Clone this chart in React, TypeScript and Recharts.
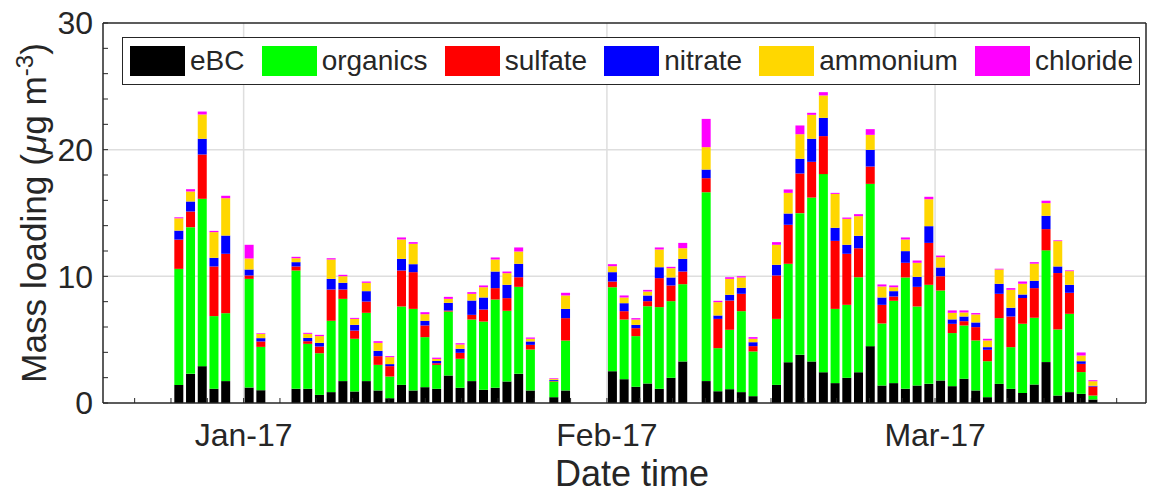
import { BarChart, Bar, XAxis, YAxis, CartesianGrid, Legend } from 'recharts';

// daily means, one entry per sampled day
const dates = [
  '2016-12-26', '2016-12-27', '2016-12-28', '2016-12-29', '2016-12-30',
  '2017-01-01', '2017-01-02',
  '2017-01-05', '2017-01-06', '2017-01-07', '2017-01-08', '2017-01-09', '2017-01-10', '2017-01-11',
  '2017-01-12', '2017-01-13', '2017-01-14', '2017-01-15', '2017-01-16', '2017-01-17', '2017-01-18',
  '2017-01-19', '2017-01-20', '2017-01-21', '2017-01-22', '2017-01-23', '2017-01-24', '2017-01-25',
  '2017-01-27', '2017-01-28',
  '2017-02-01', '2017-02-02', '2017-02-03', '2017-02-04', '2017-02-05', '2017-02-06', '2017-02-07',
  '2017-02-09', '2017-02-10', '2017-02-11', '2017-02-12', '2017-02-13',
  '2017-02-15', '2017-02-16', '2017-02-17', '2017-02-18', '2017-02-19', '2017-02-20', '2017-02-21',
  '2017-02-22', '2017-02-23', '2017-02-24', '2017-02-25', '2017-02-26', '2017-02-27', '2017-02-28',
  '2017-03-01', '2017-03-02', '2017-03-03', '2017-03-04', '2017-03-05', '2017-03-06', '2017-03-07',
  '2017-03-08', '2017-03-09', '2017-03-10', '2017-03-11', '2017-03-12', '2017-03-13', '2017-03-14',
];

const ebc = [
  1.43, 2.3, 2.91, 1.12, 1.73,
  1.22, 1.01,
  1.12, 1.12, 0.64, 0.86, 1.73, 0.91, 1.73,
  0.99, 0.38, 1.43, 0.99, 1.25, 1.12, 2.17,
  1.2, 1.73, 1.04, 1.2, 1.7, 2.3, 0.99,
  0.46, 0.99,
  2.51, 1.88, 1.28, 1.54, 1.12, 1.99, 3.28,
  1.73, 0.93, 1.09, 0.86, 0.54,
  1.43, 3.22, 3.8, 3.28, 2.43, 1.57, 1.99,
  2.43, 4.49, 1.38, 1.57, 1.12, 1.38, 1.51,
  1.78, 1.33, 1.91, 0.99, 0.46, 1.51, 1.12,
  0.78, 1.46, 3.23, 0.59, 0.86, 0.72, 0.28,
];
const organics = [
  9.16, 11.58, 13.21, 5.74, 5.36,
  8.58, 3.42,
  9.34, 3.55, 3.29, 5.63, 6.49, 4.16, 5.39,
  2.02, 1.71, 6.19, 6.44, 3.95, 1.89, 5.05,
  2.29, 4.86, 5.39, 6.97, 5.58, 6.87, 3.23,
  1.24, 3.94,
  6.63, 4.71, 4.0, 6.1, 6.45, 6.05, 6.1,
  14.91, 3.4, 4.69, 6.39, 3.53,
  5.21, 7.77, 11.19, 12.94, 15.64, 5.86, 5.76,
  7.5, 12.81, 4.9, 6.5, 8.79, 6.24, 7.82,
  7.1, 4.19, 4.21, 3.95, 2.84, 5.19, 3.29,
  5.47, 5.27, 8.82, 5.22, 6.18, 1.72, 0.31,
];
const sulfate = [
  2.31, 1.24, 3.5, 3.92, 4.69,
  0.27, 0.43,
  0.32, 0.21, 0.53, 2.47, 0.74, 0.65, 0.89,
  0.69, 0.82, 2.84, 2.9, 0.92, 0.13, 0.08,
  0.47, 0.37, 0.95, 0.9, 1.0, 0.76, 0.37,
  0.05, 1.77,
  0.45, 0.66, 0.63, 0.4, 2.29, 1.24, 1.0,
  1.11, 2.31, 2.31, 1.37, 0.42,
  3.43, 3.08, 3.13, 2.82, 3.0, 5.37, 4.03,
  2.29, 1.37, 1.47, 0.34, 1.16, 1.55, 3.31,
  1.13, 0.73, 0.34, 1.05, 0.9, 1.92, 2.42,
  2.03, 2.34, 1.68, 4.45, 1.66, 0.65, 0.71,
];
const nitrate = [
  0.71, 0.79, 1.24, 0.68, 1.44,
  0.47, 0.26,
  0.34, 0.26, 0.29, 0.84, 0.53, 0.45, 0.82,
  0.42, 0.16, 0.92, 0.63, 0.37, 0.18, 0.61,
  0.32, 1.13, 0.95, 1.31, 1.05, 1.06, 0.27,
  0.08, 0.73,
  0.74, 0.63, 0.26, 0.45, 0.86, 0.63, 1.0,
  0.68, 0.27, 0.45, 0.47, 0.31,
  0.84, 0.89, 1.16, 1.82, 1.44, 1.03, 0.71,
  0.98, 1.32, 0.58, 0.42, 0.92, 0.79, 1.32,
  0.69, 0.35, 0.37, 0.37, 0.21, 0.79, 0.69,
  0.29, 0.58, 1.05, 0.52, 0.63, 0.21, 0.06,
];
const ammonium = [
  0.97, 0.79, 1.92, 2.03, 2.95,
  0.87, 0.34,
  0.31, 0.32, 0.53, 1.53, 0.52, 0.47, 0.66,
  0.63, 0.55, 1.53, 1.61, 0.52, 0.16, 0.31,
  0.34, 0.53, 0.81, 0.95, 0.92, 0.97, 0.21,
  0.08, 1.06,
  0.47, 0.45, 0.42, 0.31, 1.4, 0.73, 0.84,
  1.77, 1.05, 1.26, 0.82, 0.27,
  1.58, 1.63, 1.94, 1.89, 1.77, 2.68, 2.05,
  1.55, 1.18, 0.87, 0.31, 0.92, 1.11, 2.13,
  0.81, 0.52, 0.32, 0.63, 0.53, 1.13, 1.42,
  0.84, 1.35, 1.0, 2.0, 1.08, 0.45, 0.36,
];
const chloride = [
  0.08, 0.18, 0.23, 0.1, 0.19,
  1.08, 0.05,
  0.11, 0.08, 0.1, 0.1, 0.11, 0.08, 0.1,
  0.13, 0.08, 0.16, 0.13, 0.16, 0.1, 0.16,
  0.1, 0.13, 0.14, 0.16, 0.13, 0.32, 0.1,
  0.05, 0.21,
  0.16, 0.16, 0.11, 0.13, 0.16, 0.11, 0.42,
  2.23, 0.11, 0.13, 0.1, 0.13,
  0.21, 0.27, 0.69, 0.16, 0.26, 0.08, 0.1,
  0.16, 0.45, 0.16, 0.14, 0.16, 0.18, 0.19,
  0.13, 0.19, 0.16, 0.11, 0.13, 0.06, 0.13,
  0.19, 0.12, 0.19, 0.06, 0.06, 0.24, 0.08,
];

const seriesNames = ['eBC', 'organics', 'sulfate', 'nitrate', 'ammonium', 'chloride'];
const seriesColors = ['#000000', '#00ff00', '#ff0000', '#0000ff', '#ffd700', '#ff00ff'];
const seriesValues = [ebc, organics, sulfate, nitrate, ammonium, chloride];

const monthTickDates = ['2017-01-01', '2017-02-01', '2017-03-01'];
const monthTickLabels = ['Jan-17', 'Feb-17', 'Mar-17'];
const monthStartDates = ['2016-12-01', '2017-01-01', '2017-02-01', '2017-03-01', '2017-04-01'];

const AXIS_COLOR = '#262626';
const FONT = '"Liberation Sans", Arial, Helvetica, sans-serif';

const DAY_MS = 86400000;
const ORIGIN = Date.parse('2017-01-01');
const toDay = (d: string) => (Date.parse(d) - ORIGIN) / DAY_MS;

const xDomain = [toDay('2016-12-20'), toDay('2017-03-19')];

// bars sit in the middle of their day
const rows = dates.map((d, i) => {
  const row: Record<string, number> = { day: toDay(d) + 0.5 };
  seriesNames.forEach((name, k) => {
    row[name] = seriesValues[k][i];
  });
  return row;
});

const majorTicks = monthTickDates.map(toDay);

// matlab-style minor ticks: ten per month
const monthStarts = monthStartDates.map(toDay);
const xTicks: number[] = [];
for (let m = 0; m < monthStarts.length - 1; m++) {
  const step = (monthStarts[m + 1] - monthStarts[m]) / 10;
  for (let k = 0; k < 10; k++) {
    const t = monthStarts[m] + k * step;
    if (t >= xDomain[0] && t <= xDomain[1]) xTicks.push(t);
  }
}
const yTicks = Array.from({ length: 16 }, (_, i) => i * 2);

const formatX = (v: number) => {
  const i = majorTicks.indexOf(v);
  return i >= 0 ? monthTickLabels[i] : '';
};
const formatY = (v: number) => (v % 10 === 0 ? String(v) : '');

const renderLegend = () => (
  <div
    style={{
      boxSizing: 'border-box',
      width: '100%',
      height: '100%',
      border: `1.5px solid ${AXIS_COLOR}`,
      background: '#fff',
      display: 'flex',
      alignItems: 'center',
      justifyContent: 'space-between',
      padding: '0 6px 0 7px',
      fontFamily: FONT,
    }}
  >
    {seriesNames.map((name, i) => (
      <div key={name} style={{ display: 'flex', alignItems: 'center' }}>
        <span
          style={{
            display: 'inline-block',
            width: 55,
            height: 30,
            background: seriesColors[i],
            marginRight: 5,
          }}
        />
        <span style={{ fontSize: 28, color: AXIS_COLOR, lineHeight: 1 }}>{name}</span>
      </div>
    ))}
  </div>
);

const renderYLabel = () => (
  <text
    x={46}
    y={213}
    transform="rotate(-90, 46, 213)"
    textAnchor="middle"
    fill={AXIS_COLOR}
    fontSize={35.2}
    fontFamily={FONT}
  >
    Mass loading (<tspan fontStyle="italic">μ</tspan>g m
    <tspan dy={-13} fontSize={24}>-3</tspan>
    <tspan dy={13}>)</tspan>
  </text>
);

const renderXLabel = () => (
  <text x={632} y={486} textAnchor="middle" fill={AXIS_COLOR} fontSize={36} fontFamily={FONT}>
    Date time
  </text>
);

export default function App() {
  return (
    <div style={{ position: 'absolute', left: 0, top: 0, fontFamily: FONT }}>
      <BarChart
        width={1151}
        height={496}
        data={rows}
        margin={{ top: 22, right: 4, bottom: 0, left: 0 }}
      >
        <CartesianGrid
          horizontalValues={[10, 20]}
          verticalValues={majorTicks}
          stroke="#dedede"
          strokeWidth={1.5}
        />
        <XAxis
          dataKey="day"
          type="number"
          domain={xDomain}
          allowDataOverflow
          ticks={xTicks}
          interval={0}
          tickFormatter={formatX}
          tickSize={-5}
          tickMargin={25}
          height={93}
          tick={{ fill: AXIS_COLOR, fontSize: 32 }}
          tickLine={{ stroke: AXIS_COLOR }}
          axisLine={{ stroke: AXIS_COLOR, strokeWidth: 1.5 }}
          label={renderXLabel}
        />
        <XAxis
          xAxisId="top"
          orientation="top"
          type="number"
          domain={xDomain}
          allowDataOverflow
          ticks={xTicks}
          interval={0}
          tick={false}
          tickSize={-5}
          height={1}
          tickLine={{ stroke: AXIS_COLOR }}
          axisLine={{ stroke: AXIS_COLOR, strokeWidth: 1.5 }}
        />
        <YAxis
          type="number"
          domain={[0, 30]}
          allowDataOverflow
          ticks={yTicks}
          interval={0}
          tickFormatter={formatY}
          tickSize={-5}
          tickMargin={15}
          width={103}
          tick={{ fill: AXIS_COLOR, fontSize: 32 }}
          tickLine={{ stroke: AXIS_COLOR }}
          axisLine={{ stroke: AXIS_COLOR, strokeWidth: 1.5 }}
          label={renderYLabel}
        />
        <YAxis
          yAxisId="right"
          orientation="right"
          type="number"
          domain={[0, 30]}
          allowDataOverflow
          ticks={yTicks}
          interval={0}
          tick={false}
          tickSize={-5}
          width={1}
          tickLine={{ stroke: AXIS_COLOR }}
          axisLine={{ stroke: AXIS_COLOR, strokeWidth: 1.5 }}
        />
        <Legend
          layout="horizontal"
          align="center"
          verticalAlign="middle"
          content={renderLegend}
          wrapperStyle={{ left: 122, top: 37, width: 1018, height: 48 }}
        />
        {seriesNames.map((name, i) => (
          <Bar
            key={name}
            dataKey={name}
            stackId="mass"
            fill={seriesColors[i]}
            barSize={9}
            isAnimationActive={false}
          />
        ))}
      </BarChart>
    </div>
  );
}
